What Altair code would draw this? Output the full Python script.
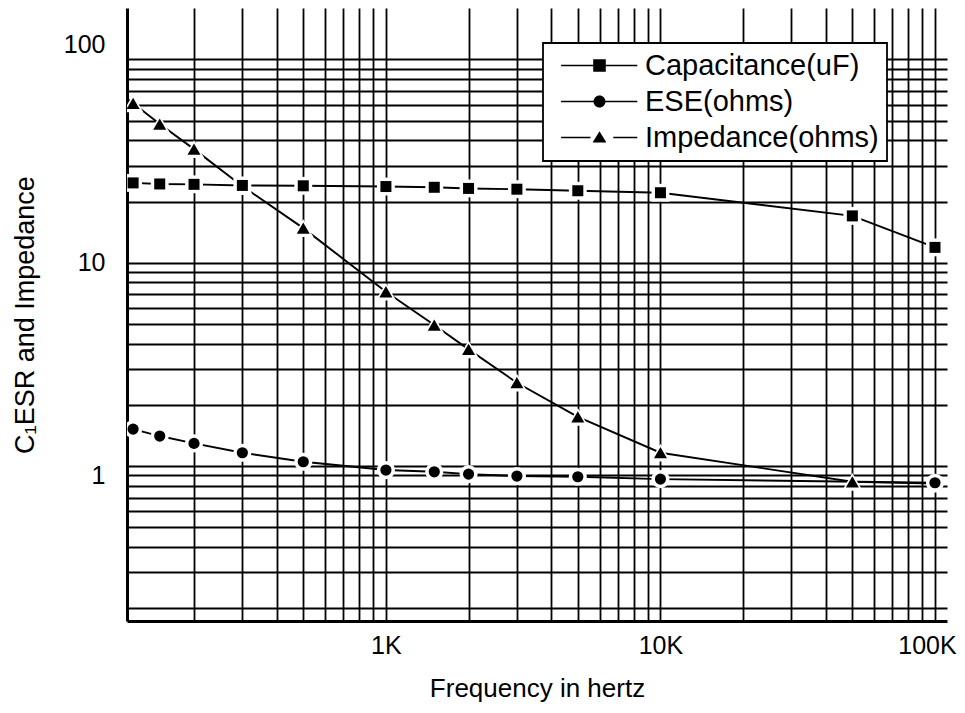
import altair as alt
import pandas as pd

# ---- data ----
cap_freq = [120, 150, 200, 300, 500, 1000, 1500, 2000, 3000, 5000, 10000, 50000, 100000]
cap_vals = [24.7, 24.4, 24.3, 24.0, 23.9, 23.7, 23.5, 23.2, 23.0, 22.6, 22.1, 17.0, 11.9]

esr_freq = [100, 120, 150, 200, 300, 500, 1000, 1500, 2000, 3000, 5000, 10000, 100000]
esr_vals = [1.78, 1.52, 1.405, 1.293, 1.163, 1.05, 0.956, 0.937, 0.913, 0.893, 0.886, 0.863, 0.828]

imp_freq = [100, 120, 150, 200, 300, 500, 1000, 1500, 2000, 3000, 5000, 10000, 50000, 100000]
imp_vals = [73.5, 60.8, 48.1, 36.2, 23.8, 14.8, 7.2, 4.94, 3.75, 2.57, 1.747, 1.163, 0.837, 0.82]

series_names = ["Capacitance(uF)", "ESE(ohms)", "Impedance(ohms)"]

x_grid = [200, 300, 400, 500, 600, 700, 800, 900,
          1000, 2000, 3000, 4000, 5000, 6000, 7000, 8000, 9000,
          10000, 20000, 30000, 40000, 50000, 60000, 70000, 80000, 90000, 100000]
y_grid = [0.2, 0.3, 0.4, 0.5, 0.6, 0.7, 0.8, 0.9,
          1, 2, 3, 4, 5, 6, 7, 8, 9,
          10, 20, 30, 40, 50, 60, 70, 80, 90, 100]

x_title = "Frequency in hertz"
y_title = "C\u2081ESR and Impedance"

rows = []
for name, fr, vals in [(series_names[2], imp_freq, imp_vals),
                       (series_names[1], esr_freq, esr_vals),
                       (series_names[0], cap_freq, cap_vals)]:
    for f, v in zip(fr, vals):
        rows.append({"series": name, "freq": f, "value": v})
df = pd.DataFrame(rows)

FONT = "Liberation Sans"

x_enc = alt.X(
    "freq:Q",
    scale=alt.Scale(type="log", domain=[114, 110600], nice=False),
    axis=alt.Axis(
        values=x_grid,
        labelExpr="datum.value == 1000 ? '1K' : datum.value == 10000 ? '10K' : datum.value == 100000 ? '100K' : ''",
        title=x_title,
        labelPadding=12,
        titlePadding=17,
        titleFontSize=26,
        labelOffset={"condition": {"test": "datum.value == 100000", "value": -8}, "value": 0},
    ),
)
y_enc = alt.Y(
    "value:Q",
    scale=alt.Scale(type="log", domain=[0.173, 179], nice=False),
    axis=alt.Axis(
        values=y_grid,
        labelExpr="datum.value == 1 ? '1' : datum.value == 10 ? '10' : datum.value == 100 ? '100' : ''",
        title=y_title,
        labelPadding=22,
        titlePadding=24,
        labelOffset={"condition": [{"test": "datum.value == 100", "value": -15},
                                   {"test": "datum.value == 1", "value": 9}],
                     "value": 0},
    ),
)

base = alt.Chart(df)

lines = base.mark_line(color="black", strokeWidth=1.9, clip=True).encode(
    x=x_enc, y=y_enc, detail="series:N"
)

shape_of = {series_names[0]: "square", series_names[1]: "circle", series_names[2]: "triangle-up"}
size_of = {series_names[0]: 121, series_names[1]: 125, series_names[2]: 169}
halo_of = {series_names[0]: 320, series_names[1]: 330, series_names[2]: 420}

marker_layers = []
for name in [series_names[2], series_names[1], series_names[0]]:
    sub = base.transform_filter(alt.datum.series == name)
    marker_layers.append(
        sub.mark_point(shape=shape_of[name], filled=True, color="white", opacity=1,
                       size=halo_of[name], clip=True).encode(x=x_enc, y=y_enc)
    )
    marker_layers.append(
        sub.mark_point(shape=shape_of[name], filled=True, color="black", opacity=1,
                       size=size_of[name], clip=True).encode(x=x_enc, y=y_enc)
    )

# legend symbols: line stubs drawn as thin filled bars plus the marker
legend_paths = [
    "M-6.4,-0.14H-1.05V0.14H-6.4Z M1.05,-0.14H6.3V0.14H1.05Z M-1.05,-1.05H1.05V1.05H-1.05Z",
    "M-6.4,-0.14H-0.95V0.14H-6.4Z M0.95,-0.14H6.3V0.14H0.95Z M-1,0A1,1 0 1,1 1,0A1,1 0 1,1 -1,0Z",
    "M-6.4,-0.14H-1.5V0.14H-6.4Z M2.3,-0.14H6.3V0.14H2.3Z M0,-1.05L1.15,0.85L-1.15,0.85Z",
]

legend_layer = base.transform_filter("false").mark_point(
    filled=True, color="black", opacity=1, size=144
).encode(
    x=x_enc,
    y=y_enc,
    shape=alt.Shape(
        "series:N",
        scale=alt.Scale(domain=series_names, range=legend_paths),
        legend=alt.Legend(
            title=None,
            orient="none",
            legendX=416,
            legendY=35,
            padding=8,
            fillColor="white",
            strokeColor="black",
            symbolSize=144,
            symbolFillColor="black",
            symbolOffset=34,
            labelOffset=31,
            rowPadding=6,
            labelFont=FONT,
            labelFontSize=29,
            labelColor="black",
            labelLimit=500,
        ),
    ),
)

chart = alt.layer(lines, *marker_layers, legend_layer).properties(
    width=820,
    height=613,
    autosize=alt.AutoSizeParams(type="none"),
    padding={"left": 119, "top": 0, "right": 10, "bottom": 82},
    background="white",
).configure_view(strokeWidth=0).configure_axis(
    grid=True,
    gridColor="black",
    gridWidth=1.8,
    gridOpacity=1,
    domainColor="black",
    domainWidth=3,
    ticks=False,
    labelFont=FONT,
    labelFontSize=25,
    labelColor="black",
    labelOverlap=False,
    labelFlush=False,
    titleFont=FONT,
    titleFontSize=27,
    titleFontWeight="normal",
    titleColor="black",
).configure_legend(strokeWidth=1.8)

chart.save("out.html", embed_options={"renderer": "svg", "actions": False})
